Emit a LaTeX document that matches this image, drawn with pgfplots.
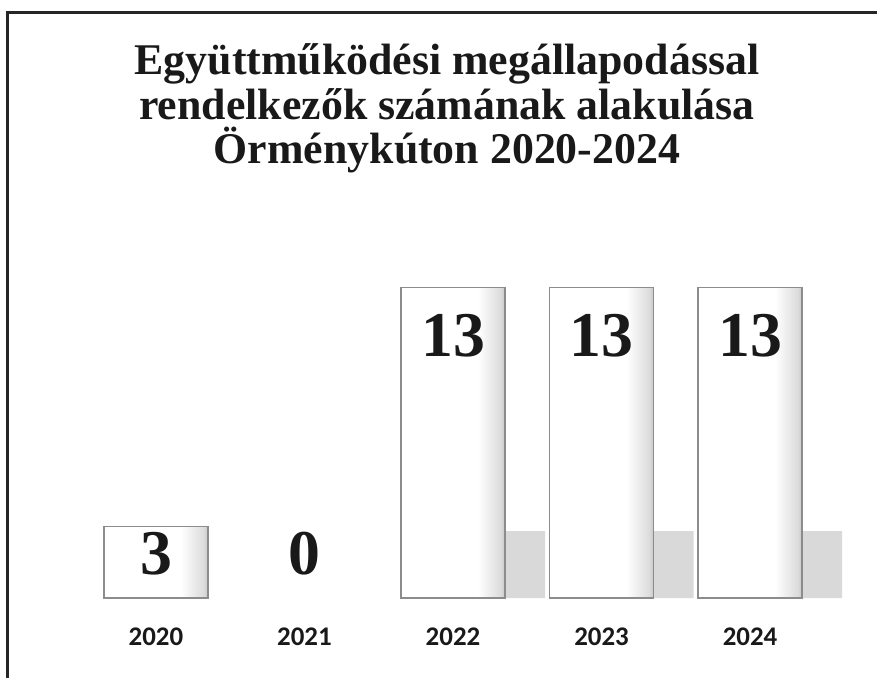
\documentclass[border=0pt]{standalone}
\usepackage{pgfplots}
\pgfplotsset{compat=1.18}
\usepackage{fontspec}
\setmainfont{Liberation Serif}
\newfontfamily\yearfont{Carlito}
% white bar face, grey towards the right edge
\pgfdeclarehorizontalshading{barshade}{100bp}{color(0bp)=(white); color(25bp)=(white); color(62bp)=(white); color(73bp)=(black!14); color(75bp)=(black!22); color(100bp)=(black!22)}

\begin{document}
\begin{tikzpicture}
\path[use as bounding box] (0,0) rectangle (438.5bp,339bp);
\draw[line width=1.5bp, black!85] (3.5bp,0) -- (3.5bp,332.5bp) -- (438.5bp,332.5bp);

\node[font=\bfseries\fontsize{22}{26}\selectfont, anchor=base, black!90] at (223.5bp,301.5bp) {Együttműködési megállapodással};
\node[font=\bfseries\fontsize{22}{26}\selectfont, anchor=base, black!90] at (223.5bp,279bp) {rendelkezők számának alakulása};
\node[font=\bfseries\fontsize{22}{26}\selectfont, anchor=base, black!90] at (223.5bp,257bp) {Örménykúton 2020-2024};

\begin{axis}[
    at={(26bp,40bp)}, anchor=south west,
    scale only axis, width=401bp, height=191bp,
    xmin=-0.7, xmax=4.7, ymin=0, ymax=16,
    axis line style={draw=none},
    ytick=\empty,
    xtick={0,...,4}, xticklabels={2020,2021,2022,2023,2024},
    major tick length=0pt,
    xticklabel style={anchor=center, yshift=-19.5bp,
        font=\yearfont\bfseries\fontsize{13.5}{16}\selectfont, black!90},
    clip=false,
    bar/.style={ybar, bar width=52bp, bar shift=0pt, shading=barshade, draw=black!45, line width=0.8bp},
    ]
% shadow at the foot of the tall bars
\addplot[ybar, bar width=20bp, bar shift=36bp, fill=black!15, draw=none]
    coordinates {(2,2.8) (3,2.8) (4,2.8)};
% one plot per bar, so each bar gets its own shading
\addplot[bar] coordinates {(0,3)};
\addplot[bar] coordinates {(2,13)};
\addplot[bar] coordinates {(3,13)};
\addplot[bar] coordinates {(4,13)};
% value labels
\addplot[draw=none, mark=none, nodes near coords, point meta=explicit symbolic,
    nodes near coords style={anchor=center, font=\bfseries\fontsize{32}{36}\selectfont, black!90}]
    coordinates {(0,1.84)[3] (1,1.84)[0] (2,10.99)[13] (3,10.99)[13] (4,10.99)[13]};
\end{axis}
\end{tikzpicture}
\end{document}
